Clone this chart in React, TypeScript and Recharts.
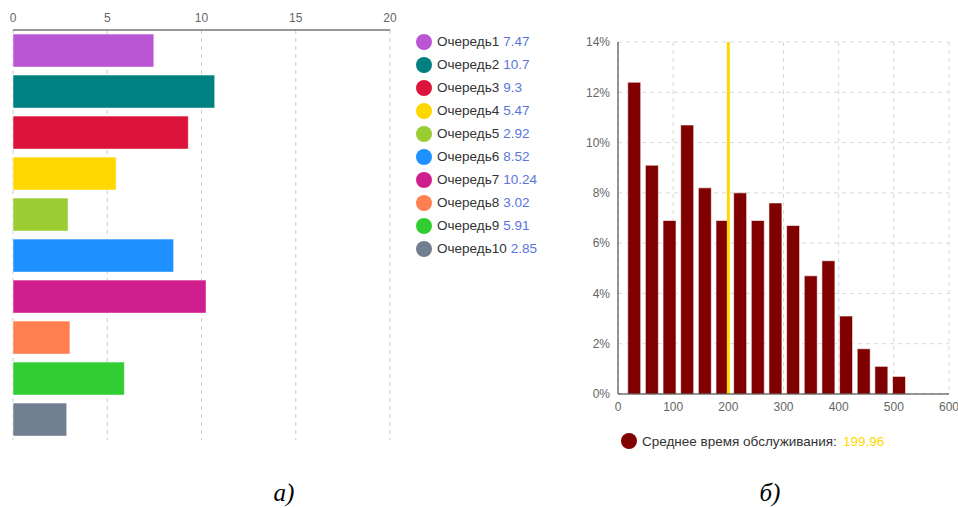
import React from 'react';
import { BarChart, Bar, XAxis, YAxis, CartesianGrid, Cell, ReferenceLine } from 'recharts';

// Queue loads (left panel)
const queueNames = ['Очередь1', 'Очередь2', 'Очередь3', 'Очередь4', 'Очередь5', 'Очередь6', 'Очередь7', 'Очередь8', 'Очередь9', 'Очередь10'];
const queueValues = [7.47, 10.7, 9.3, 5.47, 2.92, 8.52, 10.24, 3.02, 5.91, 2.85];
const queueColors = ['#BA55D3', '#008080', '#DC143C', '#FFD700', '#9ACD32', '#1E90FF', '#CF1F8E', '#FF7F50', '#32CD32', '#708090'];
const queueTicks = [0, 5, 10, 15, 20];

// Service time histogram (right panel)
const binCenters = [30, 62, 94, 126, 158, 190, 222, 254, 286, 318, 350, 382, 414, 446, 478, 510];
const binShares = [12.4, 9.1, 6.9, 10.7, 8.2, 6.9, 8.0, 6.9, 7.6, 6.7, 4.7, 5.3, 3.1, 1.8, 1.1, 0.7];
const timeTicks = [0, 100, 200, 300, 400, 500, 600];
const shareTicks = [0, 2, 4, 6, 8, 10, 12, 14];
const meanLabel = 'Среднее время обслуживания:';
const meanTime = 199.96;

const FONT = '"Liberation Sans", Arial, sans-serif';
const VALUE_BLUE = '#5b74dc';

const queueData = queueNames.map((name, i) => ({ name, value: queueValues[i] }));
const histData = binCenters.map((time, i) => ({ time, share: binShares[i] }));

const captionStyle: React.CSSProperties = {
  position: 'absolute',
  top: 480,
  width: 60,
  textAlign: 'center',
  fontFamily: '"Liberation Serif", serif',
  fontStyle: 'italic',
  fontSize: 25,
  lineHeight: '26px',
  color: '#000',
};

const App: React.FC = () => {
  return (
    <div style={{ position: 'absolute', left: 0, top: 0, width: 958, height: 508, background: '#fff', fontFamily: FONT, overflow: 'hidden' }}>
      <div style={{ position: 'absolute', left: 0, top: 0 }}>
        <BarChart
          width={400}
          height={440}
          data={queueData}
          layout="vertical"
          margin={{ top: 0, right: 10, bottom: 0, left: 13 }}
          barCategoryGap="10%"
        >
          <CartesianGrid horizontal={false} strokeDasharray="4 4" stroke="#ccc" />
          <XAxis
            type="number"
            orientation="top"
            domain={[0, 20]}
            ticks={queueTicks}
            interval={0}
            height={30}
            axisLine={{ stroke: '#333' }}
            tickLine={false}
            tick={{ fill: '#666', fontSize: 12, fontFamily: FONT }}
          />
          <YAxis type="category" dataKey="name" hide />
          <Bar dataKey="value" isAnimationActive={false} stroke="#fff" strokeOpacity={0.5}>
            {queueData.map((entry, index) => (
              <Cell key={`cell-${index}`} fill={queueColors[index]} />
            ))}
          </Bar>
        </BarChart>
      </div>

      <div style={{ position: 'absolute', left: 416, top: 30, fontSize: 13.5 }}>
        {queueNames.map((name, i) => (
          <div key={name} style={{ height: 23, display: 'flex', alignItems: 'center', whiteSpace: 'nowrap' }}>
            <span style={{ width: 16, height: 16, borderRadius: 8, background: queueColors[i], display: 'inline-block', marginRight: 5 }} />
            <span style={{ color: '#333' }}>{name}</span>
            <span style={{ color: VALUE_BLUE, marginLeft: 4 }}>{queueValues[i]}</span>
          </div>
        ))}
      </div>

      <div style={{ position: 'absolute', left: 560, top: 0 }}>
        <BarChart width={398} height={424} data={histData} margin={{ top: 42, right: 9, bottom: 0, left: 0 }}>
          <CartesianGrid strokeDasharray="4 4" stroke="#d9d9d9" />
          <XAxis
            type="number"
            dataKey="time"
            domain={[0, 600]}
            ticks={timeTicks}
            interval={0}
            height={30}
            axisLine={{ stroke: '#333' }}
            tickLine={false}
            tick={{ fill: '#666', fontSize: 12, fontFamily: FONT }}
          />
          <YAxis
            type="number"
            domain={[0, 14]}
            ticks={shareTicks}
            interval={0}
            width={58}
            axisLine={{ stroke: '#333' }}
            tickLine={false}
            tickFormatter={(v: number) => `${v}%`}
            tick={{ fill: '#666', fontSize: 12, fontFamily: FONT }}
          />
          <Bar dataKey="share" fill="#800000" barSize={13} stroke="#fff" strokeOpacity={0.6} isAnimationActive={false} />
          <ReferenceLine x={meanTime} stroke="#FFD700" strokeWidth={3} />
        </BarChart>
      </div>

      <div style={{ position: 'absolute', left: 621, top: 433, height: 16, display: 'flex', alignItems: 'center', fontSize: 13.5, whiteSpace: 'nowrap' }}>
        <span style={{ width: 16, height: 16, borderRadius: 8, background: '#800000', display: 'inline-block', marginRight: 5 }} />
        <span style={{ color: '#333' }}>{meanLabel}</span>
        <span style={{ color: '#FFD700', marginLeft: 6 }}>{meanTime}</span>
      </div>

      <div style={{ ...captionStyle, left: 254 }}>а)</div>
      <div style={{ ...captionStyle, left: 740 }}>б)</div>
    </div>
  );
};

export default App;
